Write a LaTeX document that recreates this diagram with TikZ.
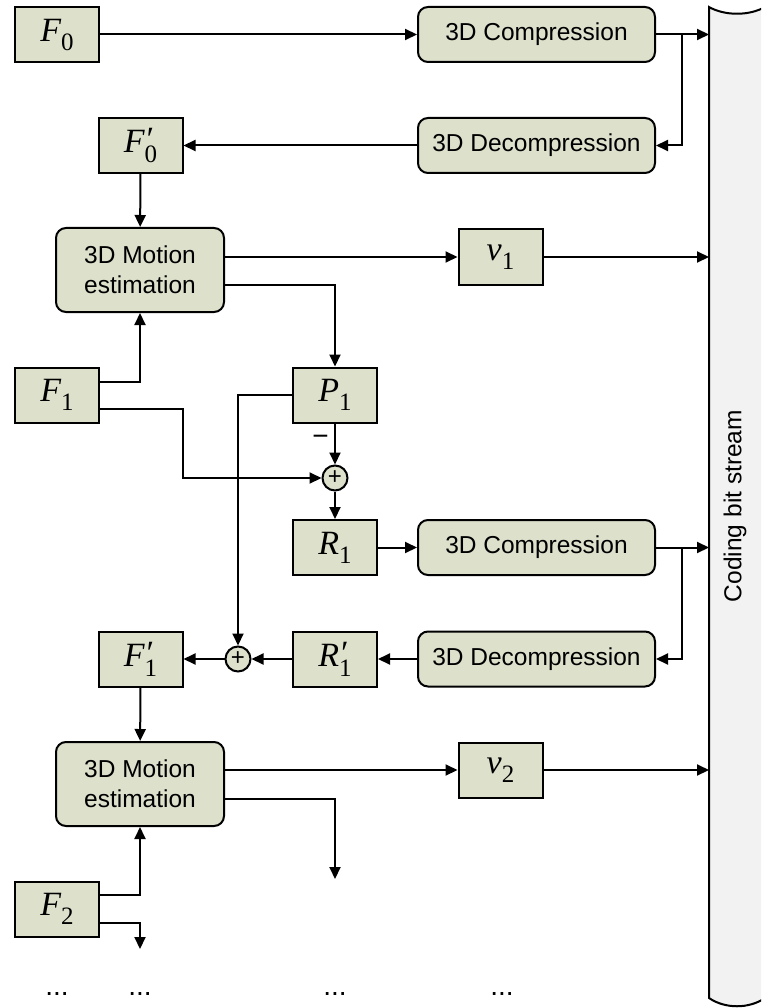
\documentclass[tikz,border=0pt]{standalone}
\usepackage{fontspec}
\setmainfont{Liberation Sans}
\newfontfamily\tnr{Liberation Serif}
\usetikzlibrary{arrows.meta}
\definecolor{boxfill}{RGB}{221,225,204}
\definecolor{bsfill}{RGB}{242,242,242}
\newcommand{\sym}[2]{{\tnr\fontsize{34}{34}\selectfont\itshape #1\upshape\raisebox{-9pt}{\fontsize{25}{25}\selectfont #2}}}
\newcommand{\symp}[2]{{\tnr\fontsize{34}{34}\selectfont\itshape #1\upshape\rlap{\raisebox{2pt}{\itshape ′}}\raisebox{-10pt}{\fontsize{25}{25}\selectfont #2}}}
\begin{document}
\begin{tikzpicture}[x=1pt, y=-1pt, line width=2pt, >={Triangle[length=12pt,width=11pt]},
  font=\fontsize{24.5}{30}\selectfont,
  block/.style = {draw, fill=boxfill, minimum width=84pt, minimum height=55pt, inner sep=0pt},
  proc/.style = {draw, fill=boxfill, rounded corners=10pt, minimum width=237pt, minimum height=55pt, inner sep=0pt},
  motion/.style = {proc, minimum width=168pt, minimum height=84pt, align=center},
  sum/.style = {draw, circle, fill=boxfill, minimum size=25pt, inner sep=0pt, font=\fontsize{24}{24}\selectfont}]
	\clip (0,0) rectangle (761,1008);
	% bit stream
	\draw[fill=bsfill] (709,7) .. controls (725,16) and (749,16) .. (765,7) -- (765,998)
		.. controls (749,1009) and (725,1009) .. (709,998) -- cycle;
	\node[rotate=90] (bstext) at (735,506) {Coding bit stream};
	\coordinate (bs) at (709,0);
	% blocks
	\node[block] (f0) at (57,34.5) {\sym{F}{0}};
	\node[proc] (c1) at (536.5,34.5) {3D Compression};
	\node[proc] (d1) at (536.5,145.5) {3D Decompression};
	\node[block] (f0p) at (140.5,145.5) {\symp{F}{0}};
	\node[motion] (m1) at (140,270) {3D Motion\\estimation};
	\node[block] (v1) at (500.5,257) {\sym{v}{1}};
	\node[block] (f1) at (57,395) {\sym{F}{1}};
	\node[block] (p1) at (335,395) {\sym{P}{1}};
	\node[sum] (s1) at (335,478) {+};
	\node[block] (r1) at (335,547.5) {\sym{R}{1}};
	\node[proc] (c2) at (536.5,547.5) {3D Compression};
	\node[proc] (d2) at (536.5,659) {3D Decompression};
	\node[block] (r1p) at (335,659) {\symp{R}{1}};
	\node[sum] (s2) at (238,659) {+};
	\node[block] (f1p) at (140.5,659) {\symp{F}{1}};
	\node[motion] (m2) at (140,784) {3D Motion\\estimation};
	\node[block] (v2) at (500.5,770) {\sym{v}{2}};
	\node[block] (f2) at (57,909) {\sym{F}{2}};
	\coordinate (j1) at (682,34.5);
	\coordinate (j2) at (682,547.5);
	\coordinate (e1) at (335,879);
	\coordinate (e2) at (140,949);
	\foreach \x in {57,140,335,502}
		\node[font=\fontsize{28}{28}\selectfont] (dots\x) at (\x,994) {...};
	% connectors
	\draw[->] (f0) -- (c1);
	\draw[->] (c1) -- (c1 -| bs);
	\draw[->] (j1) |- (d1.east);
	\draw[->] (d1) -- (f0p);
	\draw[->] (f0p) -- (m1);
	\draw[->] (m1.east |- v1) -- (v1);
	\draw[->] (v1) -- (v1 -| bs);
	\draw[->] ([yshift=-14.5pt]m1.east) -| (p1);
	\draw[->] ([yshift=13.5pt]f1.east) -| (m1);
	\draw[->] ([yshift=-13.5pt]f1.east) -- ++(83pt,0) |- (s1);
	\draw[->] (p1) -- node[left, pos=0.4, xshift=-2pt, font=\fontsize{28}{28}\selectfont] {−} (s1);
	\draw[->] (s1) -- (r1);
	\draw[->] (p1.west) -| (s2);
	\draw[->] (r1) -- (c2);
	\draw[->] (c2) -- (c2 -| bs);
	\draw[->] (j2) |- (d2.east);
	\draw[->] (d2) -- (r1p);
	\draw[->] (r1p) -- (s2);
	\draw[->] (s2) -- (f1p);
	\draw[->] (f1p) -- (m2);
	\draw[->] (m2.east |- v2) -- (v2);
	\draw[->] (v2) -- (v2 -| bs);
	\draw[->] ([yshift=-14.5pt]m2.east) -| (e1);
	\draw[->] ([yshift=14pt]f2.east) -| (m2);
	\draw[->] ([yshift=-14pt]f2.east) -| (e2);
\end{tikzpicture}
\end{document}
